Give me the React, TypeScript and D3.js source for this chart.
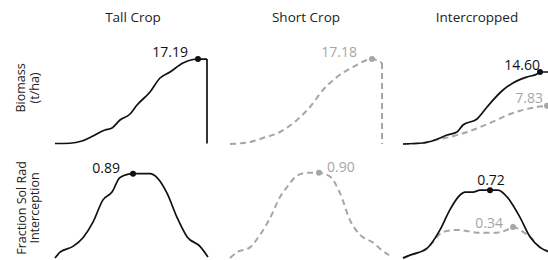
import React from 'react';
import * as d3 from 'd3';

// panel titles and row labels
const panels = ['Tall Crop', 'Short Crop', 'Intercropped'];
const rowLabels = [['Biomass', '(t/ha)'], ['Fraction Sol Rad', 'Interception']];

// biomass (t/ha) by day after sowing
const tallBioDay = [0, 15, 27, 38, 50, 57, 65, 75, 82, 95, 105, 115, 128, 138, 143, 152];
const tallBio = [0.3, 0.35, 0.8, 1.8, 3.0, 3.4, 5.0, 6.2, 8.0, 10.6, 13.4, 14.6, 16.4, 17.1, 17.19, 17.19];

const shortBioDay = [1, 21, 34, 51, 68, 81, 94, 108, 124, 143, 153];
const shortBio = [0.2, 0.6, 1.4, 2.6, 5.0, 7.6, 11.0, 13.6, 15.6, 17.18, 16.4];

const interTallBioDay = [0, 20, 32, 44, 54, 60, 74, 84, 100, 110, 124, 134, 137, 152];
const interTallBio = [0.2, 0.4, 1.0, 2.0, 2.6, 4.0, 5.2, 7.6, 11.0, 12.4, 13.6, 14.2, 14.6, 14.6];

const interShortBioDay = [0, 20, 32, 47, 64, 87, 110, 134, 144];
const interShortBio = [0.2, 0.4, 1.0, 1.6, 2.6, 4.4, 6.4, 7.6, 7.83];

// fraction of solar radiation intercepted
const tallFsriDay = [0, 5, 18, 28, 38, 48, 57, 65, 78, 95, 102, 112, 122, 132, 145, 153];
const tallFsri = [0.02, 0.08, 0.14, 0.23, 0.39, 0.62, 0.7, 0.85, 0.89, 0.89, 0.85, 0.69, 0.44, 0.24, 0.14, 0.03];

const shortFsriDay = [1, 8, 21, 31, 41, 51, 58, 68, 78, 90, 101, 111, 121, 131, 144, 153, 160];
const shortFsri = [0.02, 0.08, 0.13, 0.26, 0.43, 0.65, 0.75, 0.87, 0.9, 0.9, 0.86, 0.69, 0.41, 0.26, 0.18, 0.1, 0.05];

const interTallFsriDay = [0, 7, 24, 37, 47, 57, 62, 70, 77, 87, 95, 104, 117, 127, 137, 148];
const interTallFsri = [0.02, 0.05, 0.12, 0.31, 0.52, 0.67, 0.7, 0.7, 0.72, 0.72, 0.72, 0.65, 0.44, 0.24, 0.13, 0.08];

const interShortFsriDay = [0, 7, 24, 27, 40, 54, 77, 90, 104, 110, 120, 127, 137, 148];
const interShortFsri = [0.02, 0.05, 0.12, 0.15, 0.29, 0.31, 0.28, 0.28, 0.31, 0.34, 0.29, 0.24, 0.13, 0.08];

type Pt = { d: number; v: number };
const zip = (days: number[], vals: number[]): Pt[] => days.map((d, i) => ({ d, v: vals[i] }));

const BLACK = '#111';
const GREY = '#a6a6a6';
const FONT = '"Open Sans", sans-serif';

// which series goes in which cell; peak = index of marked point, harvest = drop to ground
const series = [
  { panel: 0, row: 0, pts: zip(tallBioDay, tallBio), grey: false, peak: 14, harvest: true, lab: { anchor: 'end', dx: -10, dy: -2 } },
  { panel: 1, row: 0, pts: zip(shortBioDay, shortBio), grey: true, peak: 9, harvest: true, lab: { anchor: 'end', dx: -15, dy: -2 } },
  { panel: 2, row: 0, pts: zip(interShortBioDay, interShortBio), grey: true, peak: 8, harvest: false, lab: { anchor: 'end', dx: -4, dy: -3 } },
  { panel: 2, row: 0, pts: zip(interTallBioDay, interTallBio), grey: false, peak: 12, harvest: false, lab: { anchor: 'end', dx: 0, dy: -2 } },
  { panel: 0, row: 1, pts: zip(tallFsriDay, tallFsri), grey: false, peak: 8, harvest: false, lab: { anchor: 'end', dx: -13, dy: -1 } },
  { panel: 1, row: 1, pts: zip(shortFsriDay, shortFsri), grey: true, peak: 9, harvest: false, lab: { anchor: 'start', dx: 8, dy: -1 } },
  { panel: 2, row: 1, pts: zip(interShortFsriDay, interShortFsri), grey: true, peak: 9, harvest: false, lab: { anchor: 'end', dx: -10, dy: 1 } },
  { panel: 2, row: 1, pts: zip(interTallFsriDay, interTallFsri), grey: false, peak: 9, harvest: false, lab: { anchor: 'middle', dx: 1, dy: -5 } },
];

const panelLeft = [55, 229, 403];
const panelW = 152;

export default function App() {
  const xs = panelLeft.map((l) => d3.scaleLinear().domain([0, 152]).range([l, l + panelW]));
  const ys = [
    d3.scaleLinear().domain([0, 20]).range([145, 45]),
    d3.scaleLinear().domain([0, 1]).range([260, 163]),
  ];

  return (
    <svg width={548} height={260} style={{ position: 'absolute', left: 0, top: 0, background: '#fff' }}>
      {panels.map((t, i) => (
        <text key={t} x={(panelLeft[i] + panelW / 2) + (i === 0 ? 2 : i === 1 ? 1 : -2)} y={22} textAnchor="middle"
          fontFamily={FONT} fontSize={13.5} fill="#222">{t}</text>
      ))}
      {rowLabels.map((lines, r) => (
        <g key={r} transform={`translate(0,${r === 0 ? 88 : 208}) rotate(-90)`}>
          {lines.map((s, k) => (
            <text key={s} x={0} y={r === 0 ? 24.5 + k * 14.5 : 25.5 + k * 13} textAnchor="middle"
              fontFamily={FONT} fontSize={12.5} fill="#222">{s}</text>
          ))}
        </g>
      ))}
      {series.map((s, i) => {
        const x = xs[s.panel];
        const y = ys[s.row];
        const line = d3.line<Pt>().x((p) => x(p.d)).y((p) => y(p.v)).curve(d3.curveMonotoneX);
        const last = s.pts[s.pts.length - 1];
        const drop = d3.line<Pt>().x((p) => x(p.d)).y((p) => y(p.v));
        const pk = s.pts[s.peak];
        const col = s.grey ? GREY : BLACK;
        return (
          <g key={i}>
            <path d={line(s.pts) || ''} fill="none" stroke={col} strokeWidth={s.grey ? 2 : 1.7}
              strokeDasharray={s.grey ? '6,4' : undefined} strokeLinejoin="round" />
            {s.harvest && (
              <path d={drop([last, { d: last.d, v: s.pts[0].v }]) || ''} fill="none" stroke={col}
                strokeWidth={s.grey ? 2 : 1.7} strokeDasharray={s.grey ? '6,4' : undefined} />
            )}
            <circle cx={x(pk.d)} cy={y(pk.v)} r={3} fill={col} />
            <text x={x(pk.d) + s.lab.dx} y={y(pk.v) + s.lab.dy} textAnchor={s.lab.anchor as any}
              fontFamily={FONT} fontSize={14} fill={s.grey ? GREY : BLACK}>{pk.v.toFixed(2)}</text>
          </g>
        );
      })}
    </svg>
  );
}
